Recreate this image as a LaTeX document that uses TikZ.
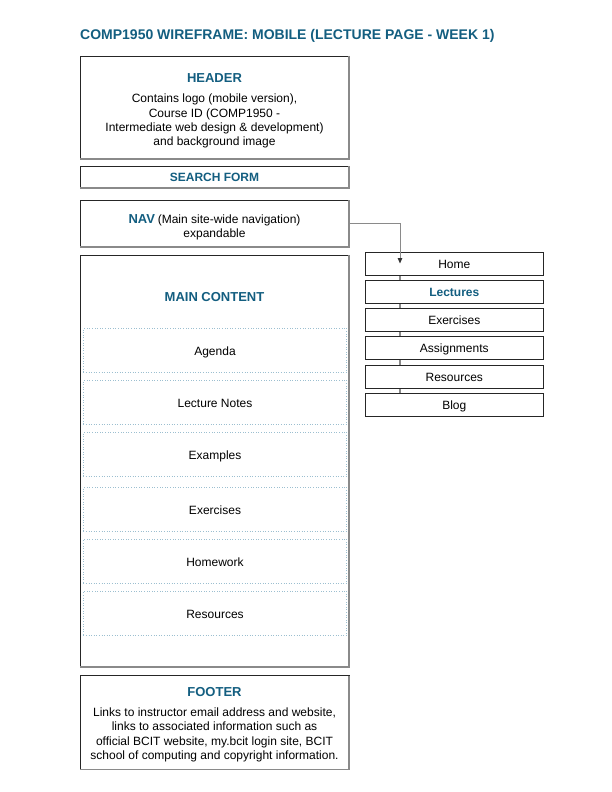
\documentclass[tikz,border=0pt]{standalone}
\usepackage{fontspec}
\setmainfont{Liberation Sans}
\usetikzlibrary{arrows.meta}
\definecolor{teal1}{HTML}{135E80}
\definecolor{dotc}{HTML}{9CBFD0}
\definecolor{edgec}{HTML}{8A8A8A}
\begin{document}
\begin{tikzpicture}[x=1pt,y=-1pt,
  wbox/.style={draw=black!85, line width=0.8pt, fill=white, inner sep=0pt, outer sep=0pt, anchor=north west, minimum width=269pt},
  subbox/.style={draw=dotc, dotted, line width=0.6pt, anchor=north west, minimum width=263.4pt, minimum height=44pt, inner sep=0pt, outer sep=0pt, font=\fontsize{12}{14}\selectfont, text height=10pt, text depth=0pt},
  menubox/.style={draw=black!85, line width=0.8pt, fill=white, anchor=north west, minimum width=178pt, minimum height=23pt, inner sep=0pt, outer sep=0pt, font=\fontsize{12}{14}\selectfont, text height=9.6pt, text depth=0pt},
  headtxt/.style={font=\fontsize{13}{16}\selectfont\bfseries, text=teal1, anchor=base, inner sep=0pt},
  bodytxt/.style={font=\fontsize{12}{14}\selectfont, anchor=base, inner sep=0pt},
  shadeedge/.style={draw=edgec, line width=1.3pt},
]
\useasboundingbox (0,0) rectangle (612,792);

% title
\node[font=\fontsize{14}{16}\selectfont\bfseries, text=teal1, anchor=base west, inner sep=0pt] (title) at (80,39.3) {COMP1950 WIREFRAME: MOBILE (LECTURE PAGE - WEEK 1)};

% header
\node[wbox, minimum height=103pt] (header) at (80,56) {};
\node[headtxt] (headerT) at (214.5,82.3) {HEADER};
\node[bodytxt] (h1) at (214.5,102.9) {Contains logo (mobile version),};
\node[bodytxt] (h2) at (214.5,117.2) {Course ID (COMP1950 -};
\node[bodytxt] (h3) at (214.5,131.6) {Intermediate web design \& development)};
\node[bodytxt] (h4) at (214.5,145.9) {and background image};

% search
\node[wbox, minimum height=22pt] (search) at (80,166) {};
\node[font=\fontsize{12}{14}\selectfont\bfseries, text=teal1, anchor=base, inner sep=0pt] (searchT) at (214.5,181.4) {SEARCH FORM};

% nav
\node[wbox, minimum height=47pt] (nav) at (80,200) {};
\node[anchor=base, inner sep=0pt] (navT) at (214.5,223.3) {{\fontsize{13}{16}\selectfont\bfseries\color{teal1}NAV} {\fontsize{12}{14}\selectfont(Main site-wide navigation)}};
\node[bodytxt] (navT2) at (214.5,237.6) {expandable};

% main content
\node[wbox, minimum height=412pt] (main) at (80,255) {};
\node[headtxt] (mainT) at (214.5,301.4) {MAIN CONTENT};
\node[subbox] (agenda) at (83.3,328.3) {Agenda};
\node[subbox] (notes) at (83.3,380.3) {Lecture Notes};
\node[subbox] (examples) at (83.3,432.3) {Examples};
\node[subbox] (exercises) at (83.3,487.3) {Exercises};
\node[subbox] (homework) at (83.3,539.2) {Homework};
\node[subbox] (resources) at (83.3,591.2) {Resources};

% footer
\node[wbox, minimum height=94pt] (footer) at (80,675.5) {};
\node[headtxt] (footerT) at (214.5,696.3) {FOOTER};
\node[bodytxt] (f1) at (214.5,716.5) {Links to instructor email address and website,};
\node[bodytxt] (f2) at (214.5,730.8) {links to associated information such as};
\node[bodytxt] (f3) at (214.5,745.0) {official BCIT website, my.bcit login site, BCIT};
\node[bodytxt] (f4) at (214.5,759.2) {school of computing and copyright information.};

% gray right/bottom edges of main boxes
\foreach \n in {header,search,nav,main,footer}
  \draw[shadeedge] (\n.north east) -- (\n.south east) -- (\n.south west);

% menu spine
\coordinate (spineTop) at (400,263);
\coordinate (spineBot) at (400,394);
\draw[draw=edgec, line width=1.5pt] (spineTop) -- (spineBot);

% menu
\node[menubox] (home) at (365.3,252.3) {Home};
\node[menubox, font=\fontsize{12}{14}\selectfont\bfseries, text=teal1] (lectures) at (365.3,280.3) {Lectures};
\node[menubox] (mexercises) at (365.3,308.3) {Exercises};
\node[menubox] (assign) at (365.3,336.3) {Assignments};
\node[menubox] (mresources) at (365.3,365.0) {Resources};
\node[menubox] (blog) at (365.3,393.3) {Blog};

% connector
\coordinate (arrowEnd) at (400,263.5);
\draw[draw=edgec, line width=1pt, -{Triangle[length=5.5pt,width=4.5pt,color=black!80,fill=black!80]}] (nav.east) -| (arrowEnd);
\end{tikzpicture}
\end{document}
